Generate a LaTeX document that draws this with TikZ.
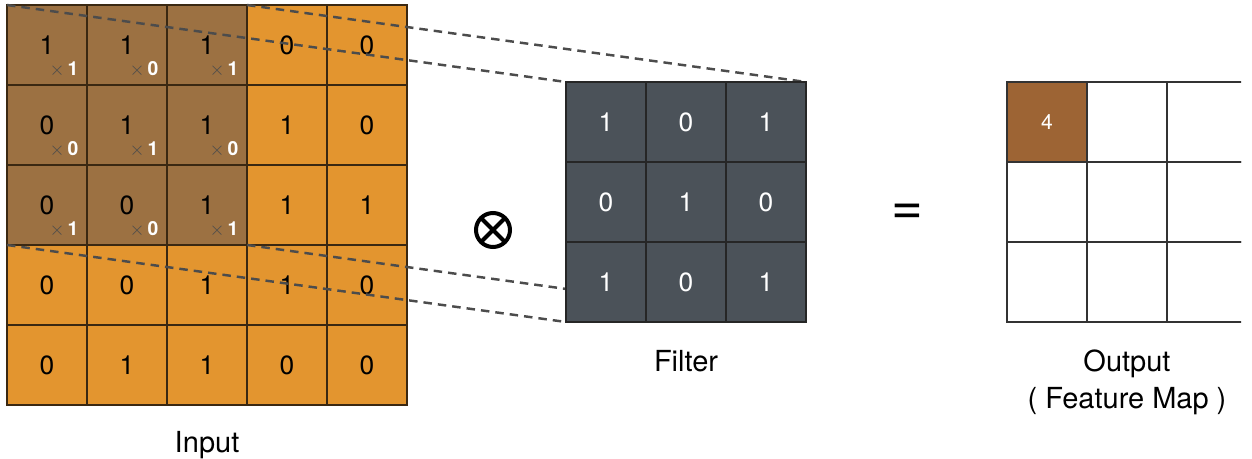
\documentclass[tikz,border=0pt]{standalone}
\usepackage{fontspec}
\setmainfont{TeX Gyre Heros}
\usetikzlibrary{positioning}
\definecolor{inorange}{HTML}{E3952F}
\definecolor{patch}{HTML}{9C7142}
\definecolor{outbrown}{HTML}{9D6434}
\definecolor{fgray}{HTML}{4B5259}
\definecolor{gridline}{HTML}{3A2812}
\tikzset{>=stealth,
  cell/.style={draw=gridline, line width=1.1pt, minimum size=1.6cm, inner sep=0pt, outer sep=0pt, font=\fontsize{15}{15}\selectfont},
  cell0/.style={fill=inorange}, cell1/.style={fill=patch},
  fcell/.style={cell, draw=black!85, fill=fgray, text=white},
  ocell/.style={cell, draw=black!80, fill=white},
  ocell1/.style={fill=outbrown, text=white, font=\fontsize{12}{12}\selectfont},
  ocell0/.style={},
  wt/.style={inner sep=0pt, font=\fontsize{11}{11}\selectfont},
  lbl/.style={inner sep=0pt, font=\fontsize{16.5}{21}\selectfont, align=center},
  win/.style={dash pattern=on 0.17cm off 0.12cm, line width=1.4pt, draw=black!70},
  otimes/.style={circle, draw, line width=0.08cm, minimum size=0.68cm, inner sep=0pt,
    path picture={\draw[line width=0.08cm] (path picture bounding box.north west) -- (path picture bounding box.south east)
      (path picture bounding box.north east) -- (path picture bounding box.south west);}}}
\begin{document}
\begin{tikzpicture}[x=0.02cm, y=-0.02cm]
  \useasboundingbox (0,0) rectangle (1252,459);
  \foreach \vals [count=\r] in {{1,1,1,0,0},{0,1,1,1,0},{0,0,1,1,1},{0,0,1,1,0},{0,1,1,0,0}}
    \foreach \v [count=\c] in \vals {
      \pgfmathtruncatemacro\inpatch{and(\r<4,\c<4)}
      \node[cell, cell\inpatch] (in-\r-\c) at (80*\c-33, 80*\r-35) {\v};
    }
  \foreach \vals [count=\r] in {{1,0,1},{0,1,0},{1,0,1}}
    \foreach \w [count=\c] in \vals
      \node[wt] (w-\r-\c) at ([xshift=-0.46cm, yshift=0.31cm]in-\r-\c.south east) {\textcolor{black!70}{$\times$}\,\textcolor{white}{\textbf{\w}}};
  \coordinate (f-nw) at (566,82);
  \coordinate (f-ne) at (806,82);
  \coordinate (f-sw) at (566,322);
  \coordinate (f-se) at (806,322);
  \draw[win] (in-1-1.north west) -- (f-nw);
  \draw[win] (in-1-3.north east) -- (f-ne);
  \draw[win] (in-3-1.south west) -- (f-sw);
  \draw[win] (in-3-3.south east) -- (f-se);
  \foreach \vals [count=\r] in {{1,0,1},{0,1,0},{1,0,1}}
    \foreach \v [count=\c] in \vals
      \node[fcell] (f-\r-\c) at ([shift={(80*\c-40, 80*\r-40)}]f-nw) {\v};
  \begin{scope}
    \clip (0,0) rectangle (1241,459);
    \foreach \r in {1,2,3}
      \foreach \c in {1,2,3} {
        \pgfmathtruncatemacro\first{and(\r==1,\c==1)}
        \node[ocell, ocell\first] (o-\r-\c) at (967+80*\c, 42+80*\r) {\ifnum\first=1 4\fi};
      }
  \end{scope}
  \node[otimes] (conv) at (493,230) {};
  \node[font=\fontsize{31}{31}\selectfont, inner sep=0pt] (eq) at (907,214) {=};
  \node[lbl, below=0.52cm of in-5-3] (inlbl) {Input};
  \node[lbl, below=0.56cm of f-3-2] (flbl) {Filter};
  \node[lbl, below=0.56cm of o-3-2] (olbl) {Output\\( Feature Map )};
\end{tikzpicture}
\end{document}
